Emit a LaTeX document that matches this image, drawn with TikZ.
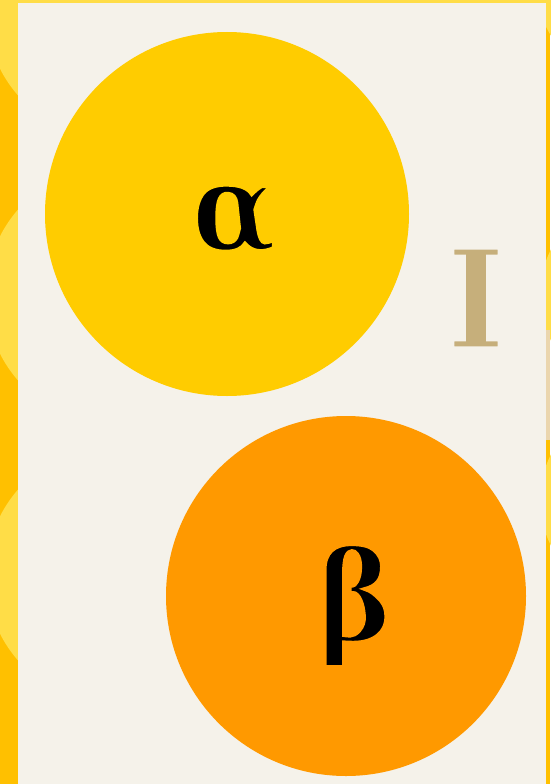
\documentclass[tikz,border=0pt]{standalone}
\usepackage{fontspec}
\newfontfamily\dvcond{DejaVu Serif Condensed}
\definecolor{bgorange}{HTML}{FFC000}
\definecolor{bglight}{HTML}{FFDD47}
\definecolor{cream}{HTML}{F5F2EA}
\definecolor{alphacol}{HTML}{FFCC00}
\definecolor{betacol}{HTML}{FF9900}
\definecolor{tan}{HTML}{C6AF7B}
\definecolor{tanlight}{HTML}{EBD6AE}
% thin a glyph by stroking its outline in the colour behind it
\newcommand\thinglyph[3]{\special{pdf:code q 2 Tr #1 w #2 RG}#3\special{pdf:code Q}}
\tikzset{
  letter/.style={anchor=base, inner sep=0pt},
}
\begin{document}
\begin{tikzpicture}[x=1pt,y=-1pt]
\useasboundingbox (0,0) rectangle (550,784);
% background pattern
\fill[bgorange] (0,0) rectangle (550,784);
\fill[bglight] (0,0) rectangle (550,4);
\fill[bglight] (116,10) circle (130);
\fill[bglight] (116,295) circle (130);
\fill[bglight] (116,575) circle (130);
\fill[bglight] (640,-20) circle (105);
\fill[bglight] (640,295) circle (100);
\fill[tanlight] (546,330) rectangle (550,440);
\fill[bglight] (640,500) circle (100);
% panel
\fill[cream] (18,3) rectangle (546,784);
% circles
\fill[alphacol] (227,214) circle (182);
\fill[betacol] (346,596) circle (180);
% letters
\node[letter, font=\dvcond\bfseries\fontsize{123}{123}\selectfont] (a) at (234,250) {\thinglyph{4}{1 0.8 0}{α}};
\node[letter, font=\dvcond\bfseries\fontsize{126}{126}\selectfont] (b) at (355,641) {\thinglyph{4}{1 0.6 0}{β}};
\node[letter, text=tan, font=\dvcond\bfseries\fontsize{137}{137}\selectfont] (i) at (476,348) {\thinglyph{3}{0.961 0.949 0.918}{I}};
\end{tikzpicture}
\end{document}
